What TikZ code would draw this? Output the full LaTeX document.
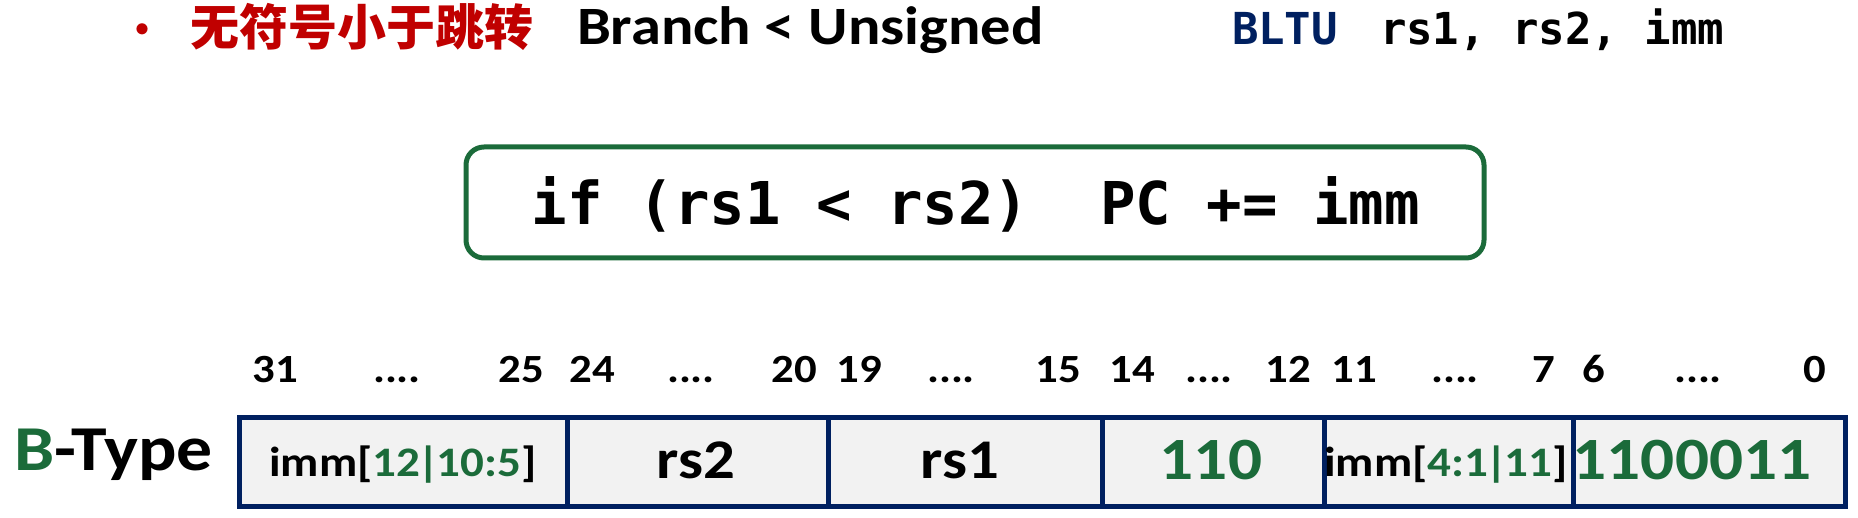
\documentclass[tikz,border=0pt]{standalone}
\usepackage{fontspec}
\setmainfont{Carlito}[FakeStretch=1.12]
\newfontfamily\cjk{Noto Sans CJK SC}
\newfontfamily\codefont{DejaVu Sans Mono}
\definecolor{tred}{HTML}{C00000}
\definecolor{tgreen}{HTML}{1B6B3A}
\definecolor{tnavy}{HTML}{002060}
\definecolor{cellfill}{HTML}{F2F2F2}
\tikzset{
  txt/.style={inner sep=0pt, outer sep=0pt},
  bitnum/.style={txt, anchor=base, font=\fontsize{40}{44}\selectfont\bfseries},
  field/.style={draw=tnavy, line width=4.5pt, fill=cellfill, inner sep=0pt, anchor=north west},
  bigfield/.style={txt, anchor=base, font=\fontsize{56}{60}\selectfont\bfseries},
  greenfield/.style={txt, anchor=base, text=tgreen, font=\fontsize{60}{64}\selectfont\bfseries},
  smallfield/.style={txt, anchor=base, font=\fontsize{42}{46}\selectfont\bfseries},
}
\begin{document}
\begin{tikzpicture}[x=1pt,y=-1pt]
\useasboundingbox (0,0) rectangle (1858,518);
% title
\node[txt, anchor=base, text=tred, font=\fontsize{40}{44}\selectfont\bfseries] (bullet) at (142,45) {\cjk ·};
\node[txt, anchor=base west, text=tred, font=\cjk\fontsize{49}{52}\selectfont\bfseries] (cn) at (190,46) {无符号小于跳转};
\node[txt, anchor=base west, font=\fontsize{54}{58}\selectfont\bfseries] (en) at (577,45) {Branch < Unsigned};
\node[txt, anchor=base west, text=tnavy, font=\codefont\fontsize{44}{48}\selectfont\bfseries] (op) at (1232,45) {BLTU};
\node[txt, anchor=base west, font=\codefont\fontsize{44}{48}\selectfont\bfseries] (args) at (1380,45) {rs1,\ rs2,\ imm};
% code box
\node[draw=tgreen, line width=5pt, rounded corners=18pt, minimum width=1018pt, minimum height=111pt, inner sep=0pt] (box) at (975,202.5) {};
\node[txt, anchor=base, font=\codefont\fontsize{59}{64}\selectfont\bfseries] (code) at (976,225) {if (rs1 < rs2)\ \ PC += imm};
% B-Type label
\node[txt, anchor=base west, font=\fontsize{64}{68}\selectfont\bfseries] (btype) at (14,470) {\textcolor{tgreen}{B}-Type};
% fields
\node[field, minimum width=328pt, minimum height=89pt] (f1) at (237,415) {};
\node[field, minimum width=261pt, minimum height=89pt] (f2) at (565,415) {};
\node[field, minimum width=274pt, minimum height=89pt] (f3) at (826,415) {};
\node[field, minimum width=222pt, minimum height=89pt] (f4) at (1100,415) {};
\node[field, minimum width=249pt, minimum height=89pt] (f5) at (1322,415) {};
\node[field, minimum width=272pt, minimum height=89pt] (f6) at (1571,415) {};
\node[smallfield] (t1) at (403,476) {imm[\textcolor{tgreen}{12{\kern-3pt}|{\kern-3pt}10:5}]};
\node[bigfield] (t2) at (696,478) {rs2};
\node[bigfield] (t3) at (960,478) {rs1};
\node[greenfield] (t4) at (1211,479) {110};
\node[smallfield] (t5) at (1446,476) {imm[\textcolor{tgreen}{4:1{\kern-3pt}|{\kern-3pt}11}]};
\node[greenfield] (t6) at (1692,479) {1100011};
% bit numbers
\node[bitnum] (b31) at (275,383) {31};
\node[bitnum] (d1) at (397,383) {....};
\node[bitnum] (b25) at (521,383) {25};
\node[bitnum] (b24) at (592,383) {24};
\node[bitnum] (d2) at (691,383) {....};
\node[bitnum] (b20) at (794,383) {20};
\node[bitnum] (b19) at (859,383) {19};
\node[bitnum] (d3) at (951,383) {....};
\node[bitnum] (b15) at (1058,383) {15};
\node[bitnum] (b14) at (1132,383) {14};
\node[bitnum] (d4) at (1209,383) {....};
\node[bitnum] (b12) at (1288,383) {12};
\node[bitnum] (b11) at (1354,383) {11};
\node[bitnum] (d5) at (1455,383) {....};
\node[bitnum] (b7) at (1544,383) {7};
\node[bitnum] (b6) at (1594,383) {6};
\node[bitnum] (d6) at (1698,383) {....};
\node[bitnum] (b0) at (1815,383) {0};
\end{tikzpicture}
\end{document}
